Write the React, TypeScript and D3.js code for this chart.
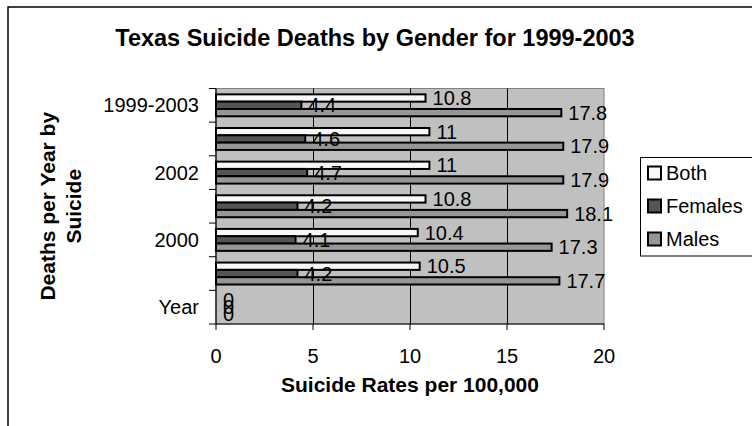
import React from "react";
import * as d3 from "d3";

// Suicide rates per 100,000, Texas, by gender
const categories = ["Year", "1999", "2000", "2001", "2002", "2003", "1999-2003"];
const both = [0, 10.5, 10.4, 10.8, 11, 11, 10.8];
const females = [0, 4.2, 4.1, 4.2, 4.7, 4.6, 4.4];
const males = [0, 17.7, 17.3, 18.1, 17.9, 17.9, 17.8];
const seriesNames = ["Both", "Females", "Males"];
const seriesColors = ["#f8f8f8", "#555555", "#969696"];
const xTicks = [0, 5, 10, 15, 20];
const shownCategoryLabels = ["Year", "2000", "2002", "1999-2003"];

const W = 752;
const H = 426;
const FONT = "'Liberation Sans', Arial, Helvetica, sans-serif";

export default function App() {
  const plot = { left: 216, right: 604, top: 88.5, bottom: 324 };

  const x = d3.scaleLinear().domain([0, 20]).range([plot.left, plot.right]);
  // first category sits at the bottom of the plot
  const y = d3
    .scaleBand<string>()
    .domain([...categories].reverse())
    .range([plot.top, plot.bottom])
    .paddingInner(0)
    .paddingOuter(0);
  const inner = d3
    .scaleBand<string>()
    .domain(seriesNames)
    .range([0, y.bandwidth()])
    .paddingInner(0)
    .paddingOuter(0.8);

  const seriesValues = [both, females, males];

  const bars: JSX.Element[] = [];
  const labels: JSX.Element[] = [];
  categories.forEach((cat, ci) => {
    seriesNames.forEach((s, si) => {
      const v = seriesValues[si][ci];
      const by = (y(cat) ?? 0) + (inner(s) ?? 0);
      const bh = inner.bandwidth();
      const xe = x(v);
      if (v > 0) {
        bars.push(
          <rect
            key={`b-${cat}-${s}`}
            x={x(0)}
            y={by}
            width={xe - x(0)}
            height={bh}
            fill={seriesColors[si]}
            stroke="#000"
            strokeWidth={2}
          />
        );
      }
      labels.push(
        <text
          key={`l-${cat}-${s}`}
          x={xe + 7}
          y={by + bh / 2 + 7}
          fontSize={20}
          fontFamily={FONT}
          fill="#000"
        >
          {String(v)}
        </text>
      );
    });
  });

  const boundaries = d3.range(categories.length + 1).map((i) => plot.top + i * y.step());

  return (
    <svg
      width={W}
      height={H}
      viewBox={`0 0 ${W} ${H}`}
      style={{ position: "absolute", left: 0, top: 0, background: "#fff" }}
    >
      {/* chart area frame */}
      <rect x={8} y={7} width={W + 20} height={H + 20} fill="#fff" stroke="#000" strokeWidth={1.5} />

      {/* title */}
      <text
        x={375}
        y={46}
        textAnchor="middle"
        fontSize={23.5}
        fontWeight="bold"
        fontFamily={FONT}
      >
        Texas Suicide Deaths by Gender for 1999-2003
      </text>

      {/* plot area */}
      <rect
        x={plot.left}
        y={plot.top}
        width={plot.right - plot.left}
        height={plot.bottom - plot.top}
        fill="#c0c0c0"
        stroke="#808080"
        strokeWidth={1}
      />
      {xTicks.slice(1, -1).map((t) => (
        <line
          key={`g-${t}`}
          x1={Math.round(x(t)) + 0.5}
          x2={Math.round(x(t)) + 0.5}
          y1={plot.top}
          y2={plot.bottom}
          stroke="#000"
          strokeWidth={1}
        />
      ))}

      {bars}

      {/* axes */}
      <line x1={plot.left} x2={plot.left} y1={plot.top} y2={plot.bottom} stroke="#000" strokeWidth={1.2} />
      <line x1={plot.left} x2={plot.right} y1={plot.bottom} y2={plot.bottom} stroke="#000" strokeWidth={1.2} />
      {boundaries.map((b, i) => (
        <line key={`yt-${i}`} x1={plot.left - 7} x2={plot.left} y1={b} y2={b} stroke="#000" strokeWidth={1} />
      ))}
      {xTicks.map((t) => (
        <g key={`xt-${t}`}>
          <line x1={x(t)} x2={x(t)} y1={plot.bottom} y2={plot.bottom + 6} stroke="#000" strokeWidth={1} />
          <text
            x={x(t)}
            y={362.5}
            textAnchor="middle"
            fontSize={20}
            fontFamily={FONT}
          >
            {t}
          </text>
        </g>
      ))}
      {categories
        .filter((c) => shownCategoryLabels.includes(c))
        .map((c) => (
          <text
            key={`yl-${c}`}
            x={199}
            y={(y(c) ?? 0) + y.bandwidth() / 2 + 7}
            textAnchor="end"
            fontSize={20}
            fontFamily={FONT}
          >
            {c}
          </text>
        ))}

      {labels}

      {/* axis titles */}
      <text
        x={(plot.left + plot.right) / 2}
        y={391.5}
        textAnchor="middle"
        fontSize={21}
        fontWeight="bold"
        fontFamily={FONT}
      >
        Suicide Rates per 100,000
      </text>
      <g transform={`translate(55, ${(plot.top + plot.bottom) / 2}) rotate(-90)`}>
        <text x={0} y={0} textAnchor="middle" fontSize={21} fontWeight="bold" fontFamily={FONT}>
          Deaths per Year by
        </text>
        <text x={0} y={26} textAnchor="middle" fontSize={21} fontWeight="bold" fontFamily={FONT}>
          Suicide
        </text>
      </g>

      {/* legend */}
      <rect x={640.5} y={157.5} width={140} height={98.5} fill="#fff" stroke="#000" strokeWidth={1} />
      {seriesNames.map((s, i) => {
        const cy = 173 + i * 33;
        return (
          <g key={`lg-${s}`}>
            <rect x={648} y={cy - 6.5} width={13} height={13} fill={seriesColors[i]} stroke="#000" strokeWidth={2} />
            <text x={666} y={cy + 7} fontSize={20} fontFamily={FONT}>
              {s}
            </text>
          </g>
        );
      })}
    </svg>
  );
}
